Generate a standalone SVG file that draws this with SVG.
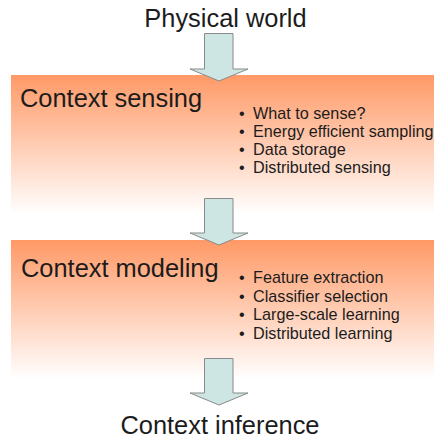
<svg xmlns="http://www.w3.org/2000/svg" width="434" height="441" viewBox="0 0 434 441">
  <defs>
    <linearGradient id="band" x1="0" y1="0" x2="0" y2="1">
      <stop offset="0" stop-color="#FF9966"/>
      <stop offset="1" stop-color="#FFFFFF"/>
    </linearGradient>
    <style>
      .title { font-family: "Liberation Sans", Arial, sans-serif; font-size: 25.4px; fill: #1c1c1c; }
      .item { font-family: "Liberation Sans", Arial, sans-serif; font-size: 16.2px; fill: #1c1c1c; }
      .arrow { fill: #CDE6E3; stroke: #8a8a8a; stroke-width: 1; }
    </style>
  </defs>
  <rect width="434" height="441" fill="#FFFFFF"/>

  <g id="physical-world">
    <text class="title" x="225.5" y="27" text-anchor="middle">Physical world</text>
  </g>

  <g id="context-sensing">
    <rect x="11" y="75" width="423" height="139" fill="url(#band)"/>
    <text class="title" x="20" y="107.3">Context sensing</text>
    <text class="item" x="239" y="119">•</text>
    <text class="item" x="253" y="119">What to sense?</text>
    <text class="item" x="239" y="137">•</text>
    <text class="item" x="253" y="137">Energy efficient sampling</text>
    <text class="item" x="239" y="155">•</text>
    <text class="item" x="253" y="155">Data storage</text>
    <text class="item" x="239" y="173">•</text>
    <text class="item" x="253" y="173">Distributed sensing</text>
  </g>

  <g id="context-modeling">
    <rect x="11" y="240" width="423" height="139" fill="url(#band)"/>
    <text class="title" x="21" y="277.3">Context modeling</text>
    <text class="item" x="239" y="283">•</text>
    <text class="item" x="253" y="283">Feature extraction</text>
    <text class="item" x="239" y="301.5">•</text>
    <text class="item" x="253" y="301.5">Classifier selection</text>
    <text class="item" x="239" y="320">•</text>
    <text class="item" x="253" y="320">Large-scale learning</text>
    <text class="item" x="239" y="338.5">•</text>
    <text class="item" x="253" y="338.5">Distributed learning</text>
  </g>

  <g id="context-inference">
    <text class="title" x="220" y="434" text-anchor="middle">Context inference</text>
  </g>

  <g id="connectors">
    <path class="arrow" d="M204.5,33.5 H233 V69 H248 L219,81 L190,69 H204.5 Z"/>
    <path class="arrow" d="M204.5,198.5 H233 V233 H248 L219,245 L190,233 H204.5 Z"/>
    <path class="arrow" d="M204.5,358.5 H233 V393 H248 L219,405 L190,393 H204.5 Z"/>
  </g>
</svg>
